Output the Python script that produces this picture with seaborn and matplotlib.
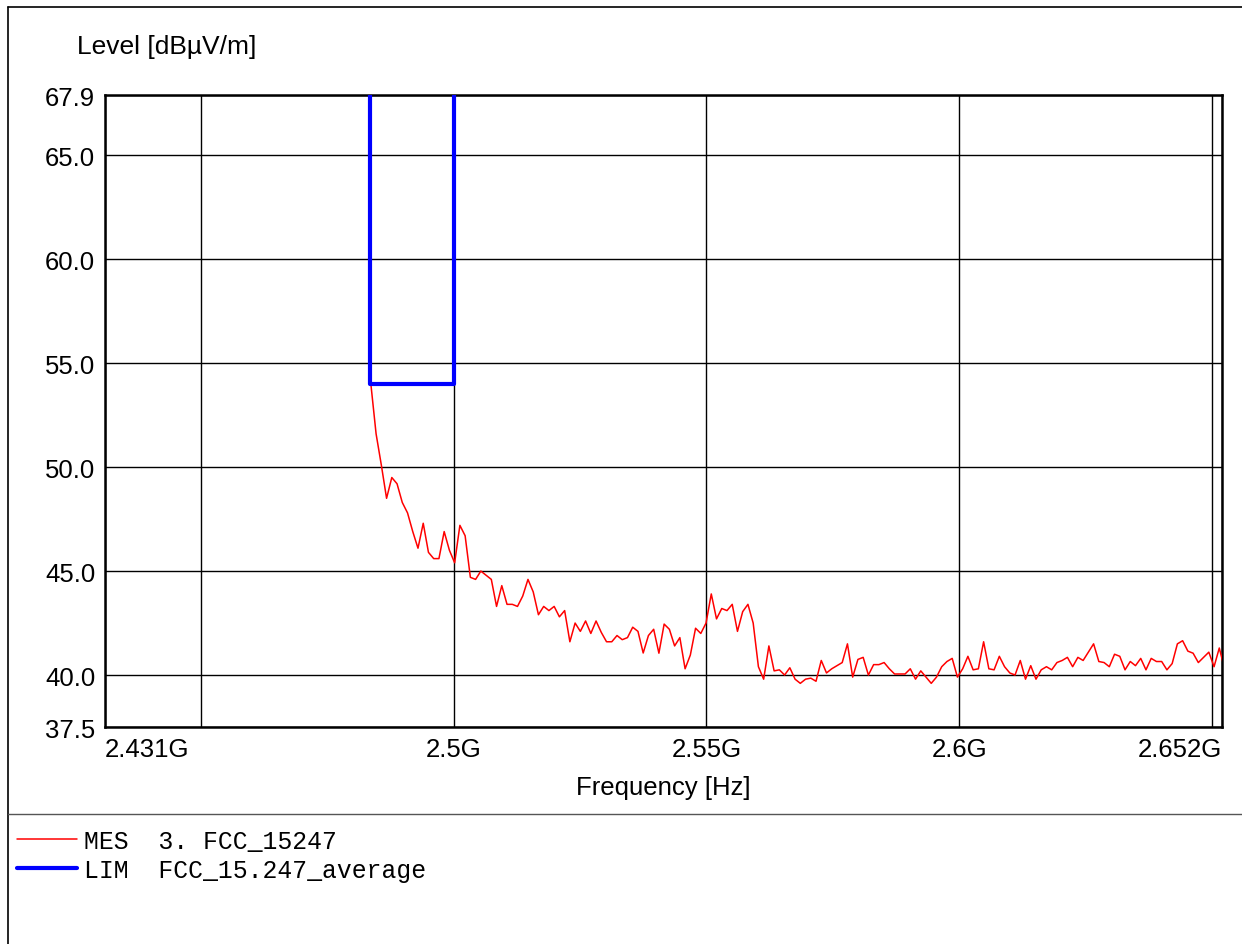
import numpy as np
import pandas as pd
import matplotlib.pyplot as plt
from matplotlib.lines import Line2D
import seaborn as sns

# Messwerte (Level in dBuV/m), gleichmaessiger Sweep
level = [54.0, 51.6, 50.1, 48.5, 49.5, 49.2, 48.3, 47.8, 46.9, 46.1,
         47.3, 45.9, 45.6, 45.6, 46.9, 46.0, 45.4, 47.2, 46.7, 44.7,
         44.6, 45.0, 44.8, 44.6, 43.3, 44.3, 43.4, 43.4, 43.3, 43.8,
         44.6, 44.0, 42.9, 43.3, 43.1, 43.3, 42.8, 43.1, 41.6, 42.5,
         42.1, 42.6, 42.0, 42.6, 42.05, 41.6, 41.6, 41.9, 41.7, 41.8,
         42.3, 42.1, 41.06, 41.9, 42.2, 41.05, 42.45, 42.2, 41.4, 41.8,
         40.3, 40.96, 42.25, 42.0, 42.5, 43.9, 42.7, 43.2, 43.1, 43.4,
         42.1, 43.05, 43.4, 42.5, 40.4, 39.8, 41.4, 40.2, 40.25, 40.0,
         40.35, 39.8, 39.6, 39.8, 39.85, 39.7, 40.7, 40.1, 40.3, 40.45,
         40.6, 41.5, 39.9, 40.75, 40.85, 40.0, 40.5, 40.5, 40.6, 40.3,
         40.05, 40.05, 40.05, 40.3, 39.8, 40.2, 39.9, 39.6, 39.9, 40.4,
         40.65, 40.8, 39.9, 40.3, 40.9, 40.25, 40.3, 41.6, 40.3, 40.25,
         40.9, 40.4, 40.1, 40.0, 40.7, 39.8, 40.45, 39.8, 40.25, 40.4,
         40.25, 40.6, 40.7, 40.85, 40.4, 40.85, 40.7, 41.1, 41.5, 40.65,
         40.6, 40.4, 41.0, 40.9, 40.25, 40.65, 40.45, 40.8, 40.25, 40.8,
         40.65, 40.65, 40.25, 40.55, 41.5, 41.65, 41.15, 41.05, 40.6, 40.85,
         41.1, 40.4, 41.3, 40.3]
f_start = 2.4836e9
f_stop = 2.6525e9
freq = np.linspace(f_start, f_stop, len(level))

# Grenzwert FCC 15.247 average
lim_freq = [2.4835e9, 2.4835e9, 2.5e9, 2.5e9]
lim_level = [80.0, 54.0, 54.0, 80.0]

xtick_pos = [2.431e9, 2.5e9, 2.55e9, 2.6e9, 2.652e9]
xtick_lab = ['2.431G', '2.5G', '2.55G', '2.6G', '2.652G']
xgrid_pos = [2.45e9, 2.65e9]
ytick_pos = [37.5, 40, 45, 50, 55, 60, 65, 67.9]
ytick_lab = ['37.5', '40.0', '45.0', '50.0', '55.0', '60.0', '65.0', '67.9']

df_mes = pd.DataFrame({'f': freq, 'level': level})
df_lim = pd.DataFrame({'f': lim_freq, 'level': lim_level})

sns.set_style('white')
plt.rcParams['font.family'] = ['Liberation Sans', 'DejaVu Sans']
plt.rcParams['text.color'] = 'black'
plt.rcParams['axes.labelcolor'] = 'black'
plt.rcParams['xtick.color'] = 'black'
plt.rcParams['ytick.color'] = 'black'

fig = plt.figure(figsize=(12.42, 9.45), dpi=100)
ax = fig.add_axes([105 / 1242, 1 - 728 / 945, 1117 / 1242, 632 / 945])

sns.lineplot(data=df_mes, x='f', y='level', estimator=None, sort=False,
             color='#ff0000', lw=1.1, ax=ax, label='MES  3. FCC_15247', zorder=3)
sns.lineplot(data=df_lim, x='f', y='level', estimator=None, sort=False,
             color='#0000ff', lw=3.0, ax=ax, label='LIM  FCC_15.247_average', zorder=4)

ax.set_xlim(2.431e9, 2.652e9)
ax.set_ylim(37.5, 67.9)

ax.set_xticks(xtick_pos)
ax.set_xticklabels(xtick_lab)
ax.set_xticks(xgrid_pos, minor=True)
ax.set_yticks(ytick_pos)
ax.set_yticklabels(ytick_lab)
ax.tick_params(which='both', length=0, labelsize=18.5)
ax.tick_params(axis='x', pad=7)
ax.tick_params(axis='y', pad=7)
labs = ax.get_xticklabels()
labs[0].set_horizontalalignment('left')
labs[-1].set_horizontalalignment('right')

ax.grid(True, which='both', color='black', lw=1.0)
ax.set_axisbelow(True)
for s in ax.spines.values():
    s.set_color('black')
    s.set_linewidth(1.8)

ax.set_xlabel('Frequency [Hz]', fontsize=18.5, labelpad=10)
ax.set_ylabel('Level [dBµV/m]', fontsize=19, rotation=0, ha='left', va='center')
ax.yaxis.set_label_coords(-0.025, 1.078)

leg = ax.legend(loc='upper left', bbox_to_anchor=(0.0135, 0.122),
                bbox_transform=fig.transFigure, frameon=False,
                prop={'family': 'Liberation Mono', 'size': 17.8},
                handlelength=2.45, handletextpad=0.25, labelspacing=0.2,
                borderpad=0, borderaxespad=0)

# Rahmen und Trennlinie
fig.add_artist(Line2D([8 / 1242, 8 / 1242], [0, 1 - 8 / 945], color='black', lw=1.2))
fig.add_artist(Line2D([8 / 1242, 1], [1 - 8 / 945, 1 - 8 / 945], color='black', lw=1.2))
fig.add_artist(Line2D([8 / 1242, 1], [1 - 815 / 945, 1 - 815 / 945], color='#555555', lw=1.0))

fig.savefig('out.png', dpi=100)
